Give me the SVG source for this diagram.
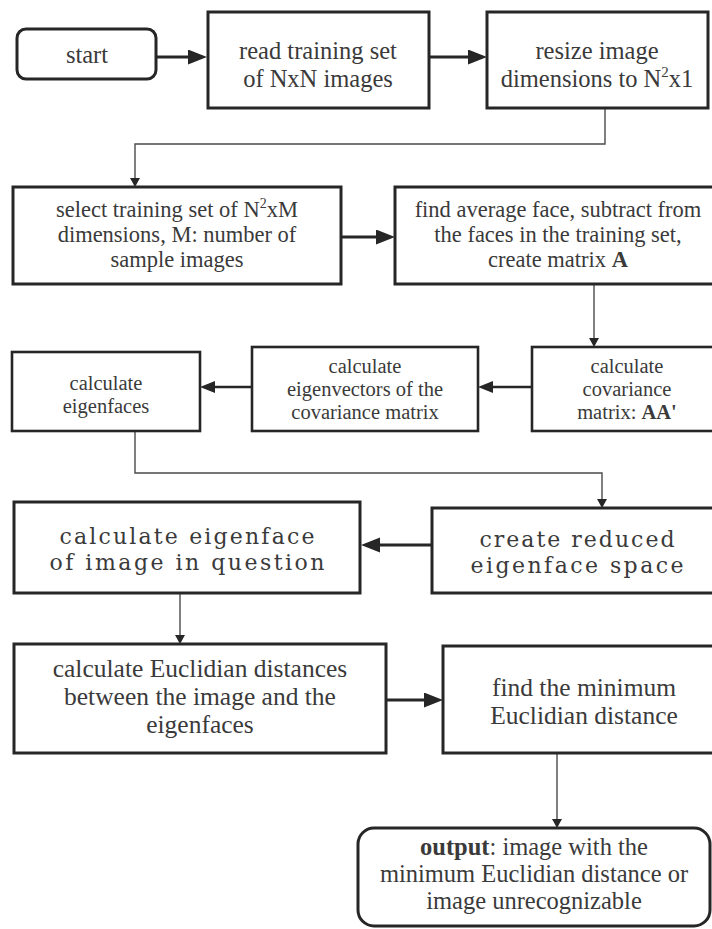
<svg xmlns="http://www.w3.org/2000/svg" width="712" height="929" viewBox="0 0 712 929">
<style>
  .box { fill: #ffffff; stroke: #262626; stroke-width: 3; }
  .box3 { fill: #ffffff; stroke: #262626; stroke-width: 2.6; }
  .t { font-family: "Liberation Serif", "Times New Roman", serif; fill: #3a3a3a; text-anchor: middle; }
  .w { font-family: "DejaVu Serif", "Liberation Serif", serif; fill: #3a3a3a; text-anchor: middle; }
  .thick { fill: none; stroke: #262626; stroke-width: 3; }
  .mid { fill: none; stroke: #262626; stroke-width: 2.6; }
  .thin { fill: none; stroke: #4a4a4a; stroke-width: 1.4; }
  .s25 { font-size: 24.5px; }
  .s23 { font-size: 22.5px; }
  .s22 { font-size: 20.5px; }
  .s24 { font-size: 22px; }
  .s27 { font-size: 25.5px; }
  .s26 { font-size: 24.5px; }
</style>
<defs>
  <marker id="big" markerUnits="userSpaceOnUse" markerWidth="20" markerHeight="16" refX="0" refY="7.5" orient="auto">
    <path d="M0,0 L19,7.5 L0,15 z" fill="#262626"/>
  </marker>
  <marker id="med" markerUnits="userSpaceOnUse" markerWidth="16" markerHeight="13" refX="0" refY="6" orient="auto">
    <path d="M0,0 L15,6 L0,12 z" fill="#262626"/>
  </marker>
  <marker id="small" markerUnits="userSpaceOnUse" markerWidth="10" markerHeight="11" refX="0" refY="5" orient="auto">
    <path d="M0,0 L9,5 L0,10 z" fill="#262626"/>
  </marker>
</defs>

<g id="connectors">
  <path class="thick" d="M156,57 H188" marker-end="url(#big)"/>
  <path class="thick" d="M429,57 H468" marker-end="url(#big)"/>
  <path class="thin" d="M605,108 V144 H135 V178" marker-end="url(#small)"/>
  <path class="thick" d="M341,237 H376" marker-end="url(#big)"/>
  <path class="thin" d="M594,284 V338" marker-end="url(#small)"/>
  <path class="mid" d="M532,387 H493" marker-end="url(#med)"/>
  <path class="mid" d="M252,387 H215" marker-end="url(#med)"/>
  <path class="thin" d="M135,431 V473 H602 V499" marker-end="url(#small)"/>
  <path class="thick" d="M432,545 H380" marker-end="url(#big)"/>
  <path class="thin" d="M180,593 V635" marker-end="url(#small)"/>
  <path class="thick" d="M386,700 H424" marker-end="url(#big)"/>
  <path class="thin" d="M557,753 V819" marker-end="url(#small)"/>
</g>

<g id="start">
  <rect class="box" x="17" y="29" width="139" height="50" rx="9"/>
  <text class="t s25" x="87" y="63">start</text>
</g>

<g id="read">
  <rect class="box" x="208" y="12" width="221" height="96"/>
  <text class="t s25" x="318" y="59">read training set</text>
  <text class="t s25" x="318" y="87">of NxN images</text>
</g>

<g id="resize">
  <rect class="box" x="487" y="12" width="221" height="96"/>
  <text class="t s25" x="597" y="59">resize image</text>
  <text class="t s25" x="597" y="87">dimensions to N<tspan dy="-10" font-size="15">2</tspan><tspan dy="10">x1</tspan></text>
</g>

<g id="select">
  <rect class="box" x="13" y="187" width="328" height="97"/>
  <text class="t s23" x="177" y="217">select training set of N<tspan dy="-9" font-size="14">2</tspan><tspan dy="9">xM</tspan></text>
  <text class="t s23" x="177" y="242">dimensions, M: number of</text>
  <text class="t s23" x="177" y="267">sample images</text>
</g>

<g id="find-average">
  <rect class="box" x="395" y="187" width="330" height="97"/>
  <text class="t s23" x="558" y="217">find average face, subtract from</text>
  <text class="t s23" x="558" y="242">the faces in the training set,</text>
  <text class="t s23" x="558" y="267">create matrix <tspan font-weight="bold">A</tspan></text>
</g>

<g id="covariance">
  <rect class="box3" x="532" y="347" width="195" height="84"/>
  <text class="t s22" x="627" y="373">calculate</text>
  <text class="t s22" x="627" y="396">covariance</text>
  <text class="t s22" x="627" y="419">matrix: <tspan font-weight="bold">AA'</tspan></text>
</g>

<g id="eigenvectors">
  <rect class="box3" x="252" y="347" width="226" height="84"/>
  <text class="t s22" x="365" y="373">calculate</text>
  <text class="t s22" x="365" y="396">eigenvectors of the</text>
  <text class="t s22" x="365" y="419">covariance matrix</text>
</g>

<g id="eigenfaces">
  <rect class="box3" x="12" y="352" width="188" height="79"/>
  <text class="t s22" x="106" y="390">calculate</text>
  <text class="t s22" x="106" y="413">eigenfaces</text>
</g>

<g id="reduced-space">
  <rect class="box" x="432" y="508" width="295" height="85"/>
  <text class="w s24" x="577" y="547" textLength="195">create reduced</text>
  <text class="w s24" x="577" y="573" textLength="213">eigenface space</text>
</g>

<g id="eigenface-question">
  <rect class="box" x="14" y="502" width="346" height="91"/>
  <text class="w s24" x="187" y="544" textLength="255">calculate eigenface</text>
  <text class="w s24" x="187" y="570" textLength="275">of image in question</text>
</g>

<g id="euclidian">
  <rect class="box" x="14" y="644" width="372" height="109"/>
  <text class="t s27" x="200" y="677">calculate Euclidian distances</text>
  <text class="t s27" x="200" y="705">between the image and the</text>
  <text class="t s27" x="200" y="733">eigenfaces</text>
</g>

<g id="find-minimum">
  <rect class="box" x="443" y="646" width="285" height="107"/>
  <text class="t s27" x="584" y="696">find the minimum</text>
  <text class="t s27" x="584" y="724">Euclidian distance</text>
</g>

<g id="output">
  <rect class="box" x="358" y="828" width="352" height="98" rx="16"/>
  <text class="t s26" x="534" y="855"><tspan font-weight="bold">output</tspan>: image with the</text>
  <text class="t s26" x="534" y="882">minimum Euclidian distance or</text>
  <text class="t s26" x="534" y="909">image unrecognizable</text>
</g>
</svg>
